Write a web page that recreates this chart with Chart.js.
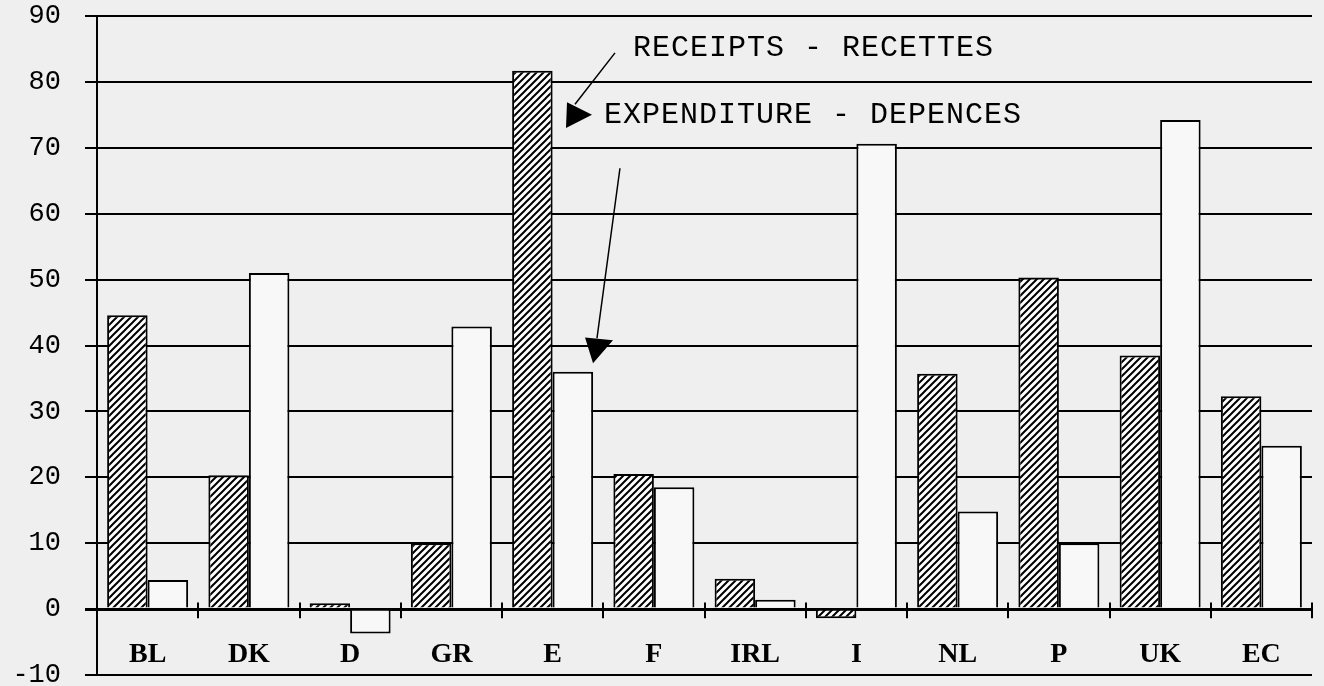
<!DOCTYPE html>
<html>
<head>
<meta charset="utf-8">
<script src="https://cdn.jsdelivr.net/npm/chart.js@4.4.1/dist/chart.umd.min.js"></script>
<style>
  html, body { margin: 0; padding: 0; background: #efefef; }
  #wrap { width: 1324px; height: 686px; }
</style>
</head>
<body>
<div id="wrap"><canvas id="chart" width="1324" height="686"></canvas></div>
<script>
const countries = ["BL", "DK", "D", "GR", "E", "F", "IRL", "I", "NL", "P", "UK", "EC"];
const receipts = [44.6, 20.3, 0.9, 10, 81.7, 20.5, 4.6, -1.4, 35.7, 50.3, 38.5, 32.3];
const expenditure = [4.4, 51, -3.7, 42.9, 36, 18.5, 1.4, 70.6, 14.8, 10, 74.2, 24.8];
const yTicks = [-10, 0, 10, 20, 30, 40, 50, 60, 70, 80, 90];

// hatch fill for the receipts bars
function makeHatch() {
  const c = document.createElement("canvas");
  c.width = 7;
  c.height = 7;
  const g = c.getContext("2d");
  g.fillStyle = "#ffffff";
  g.fillRect(0, 0, 7, 7);
  g.strokeStyle = "#000000";
  g.lineWidth = 2;
  g.beginPath();
  g.moveTo(-2, 9); g.lineTo(9, -2);
  g.moveTo(-2, 2); g.lineTo(2, -2);
  g.moveTo(5, 9); g.lineTo(9, 5);
  g.stroke();
  return g.createPattern(c, "repeat");
}

const decorations = {
  id: "decorations",
  beforeDraw(chart) {
    const ctx = chart.ctx;
    ctx.save();
    ctx.fillStyle = "#efefef";
    ctx.fillRect(0, 0, chart.width, chart.height);
    ctx.restore();
  },
  afterDatasetsDraw(chart) {
    const ctx = chart.ctx;
    const x = chart.scales.x;
    const y = chart.scales.y;
    const cw = x.getPixelForValue(1) - x.getPixelForValue(0);
    const px = (i) => x.getPixelForValue(0) + i * cw;

    ctx.save();
    // category separator ticks on the zero line
    ctx.strokeStyle = "#000";
    ctx.lineWidth = 2;
    for (let i = 0; i < countries.length; i++) {
      const xx = Math.round(px(i + 0.5));
      ctx.beginPath();
      ctx.moveTo(xx, y.getPixelForValue(1));
      ctx.lineTo(xx, y.getPixelForValue(-1.4));
      ctx.stroke();
    }

    // category names inside the plot, below zero
    ctx.fillStyle = "#000";
    ctx.font = "bold 28px 'Liberation Serif'";
    ctx.textAlign = "center";
    ctx.textBaseline = "middle";
    countries.forEach((c, i) => {
      ctx.fillText(c, px(i), y.getPixelForValue(-7));
    });

    // labels and arrows
    ctx.font = "30px 'Liberation Mono'";
    ctx.letterSpacing = "1px";
    ctx.textAlign = "left";
    ctx.fillText("RECEIPTS - RECETTES", px(4.794), y.getPixelForValue(85.1));
    ctx.fillText("EXPENDITURE - DEPENCES", px(4.507), y.getPixelForValue(75.0));
    ctx.letterSpacing = "0px";

    ctx.lineWidth = 1.5;
    ctx.beginPath();
    ctx.moveTo(px(4.616), y.getPixelForValue(84.4));
    ctx.lineTo(px(4.221), y.getPixelForValue(76.6));
    ctx.moveTo(px(4.665), y.getPixelForValue(66.9));
    ctx.lineTo(px(4.438), y.getPixelForValue(41.1));
    ctx.stroke();

    ctx.beginPath();
    ctx.moveTo(px(4.142), y.getPixelForValue(76.9));
    ctx.lineTo(px(4.389), y.getPixelForValue(75.0));
    ctx.lineTo(px(4.132), y.getPixelForValue(73.0));
    ctx.closePath();
    ctx.moveTo(px(4.320), y.getPixelForValue(41.2));
    ctx.lineTo(px(4.596), y.getPixelForValue(40.8));
    ctx.lineTo(px(4.399), y.getPixelForValue(37.3));
    ctx.closePath();
    ctx.fill();
    ctx.restore();
  },
};

new Chart(document.getElementById("chart"), {
  type: "bar",
  data: {
    labels: countries,
    datasets: [
      {
        label: "RECEIPTS - RECETTES",
        data: receipts,
        backgroundColor: makeHatch(),
        borderColor: "#000",
        borderWidth: 2,
      },
      {
        label: "EXPENDITURE - DEPENCES",
        data: expenditure,
        backgroundColor: "#f8f8f8",
        borderColor: "#000",
        borderWidth: 2,
      },
    ],
  },
  options: {
    responsive: false,
    animation: false,
    categoryPercentage: 0.8,
    barPercentage: 1.0,
    layout: {
      padding: { top: 16, right: 12, bottom: 11, left: 0 },
    },
    plugins: {
      legend: { display: false },
      tooltip: { enabled: false },
    },
    scales: {
      x: {
        display: false,
      },
      y: {
        min: -10,
        max: 90,
        afterBuildTicks: (scale) => {
          scale.ticks = yTicks.map((v) => ({ value: v }));
        },
        afterFit: (scale) => {
          scale.width = 97;
          scale.paddingTop = 0;
          scale.paddingBottom = 0;
        },
        grid: {
          color: "#000",
          lineWidth: (c) => (c.tick && c.tick.value === 0 ? 3 : 2),
          tickLength: 12,
        },
        border: {
          display: true,
          color: "#000",
          width: 2,
        },
        ticks: {
          color: "#000",
          padding: 24,
          font: { size: 27, family: "Liberation Mono" },
        },
      },
    },
  },
  plugins: [decorations],
});
</script>
</body>
</html>
